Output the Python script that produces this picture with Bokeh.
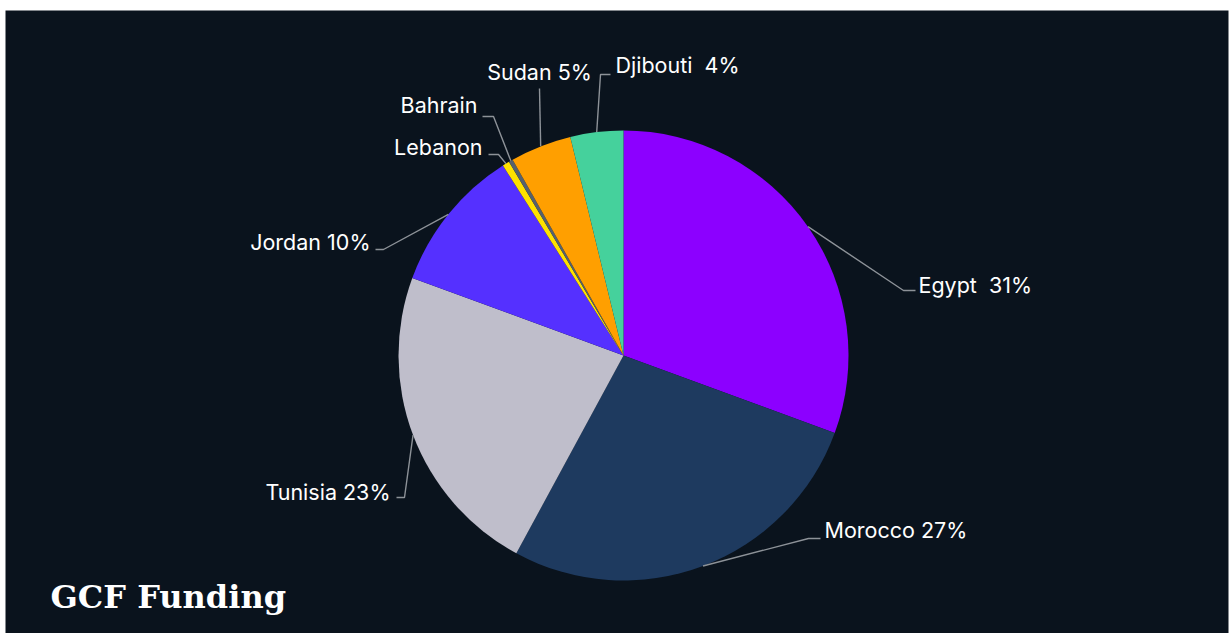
import math
from bokeh.plotting import figure
from bokeh.models import Range1d, ColumnDataSource
from bokeh.core.properties import value
from bokeh.embed import file_html
from bokeh.resources import INLINE

# ---- data ----
countries = ["Egypt", "Morocco", "Tunisia", "Jordan", "Lebanon", "Bahrain", "Sudan", "Djibouti"]
shares = [30.6, 27.3, 22.7, 10.4, 0.5, 0.3, 4.4, 3.8]
labels = ["Egypt\u00a0 31%", "Morocco 27%", "Tunisia 23%", "Jordan 10%", "Lebanon", "Bahrain", "Sudan 5%", "Djibouti\u00a0 4%"]
colors = ["#8c00ff", "#1e3a5f", "#bfbecb", "#5530ff", "#ffe100", "#56616d", "#ff9f00", "#45d19c"]

# ---- layout (pixel positions, y measured from top) ----
W, H = 1230, 633
CX, CY, R = 623, 355, 225
elbows = {
    "Egypt": [(903, 290), (915, 290)],
    "Morocco": [(808, 538), (820, 538)],
    "Tunisia": [(404, 497), (396, 497)],
    "Jordan": [(383, 249), (375, 249)],
    "Lebanon": [(498, 154), (488, 154)],
    "Bahrain": [(493, 116), (482, 116)],
    "Sudan": [(539, 88)],
    "Djibouti": [(600, 74), (610, 74)],
}
label_pos = {
    "Egypt": (918, 284, "left"),
    "Morocco": (824, 529, "left"),
    "Tunisia": (390, 491, "right"),
    "Jordan": (370, 241, "right"),
    "Lebanon": (482, 146, "right"),
    "Bahrain": (477, 104, "right"),
    "Sudan": (539, 71, "center"),
    "Djibouti": (615, 64, "left"),
}

def fy(ypx):
    return H - ypx

p = figure(width=W, height=H, x_range=Range1d(0, W), y_range=Range1d(0, H),
           output_backend="svg", toolbar_location=None, min_border=0)
p.axis.visible = False
p.grid.visible = False
p.outline_line_color = None
p.background_fill_color = "white"
p.border_fill_color = "white"

# dark panel
p.quad(left=[5], right=[1228], bottom=[0], top=[fy(10)], fill_color="#0a131d", line_color=None)

total = sum(shares)
starts, ends, mids = [], [], []
cum = 0.0
for s in shares:
    a0 = cum / total
    cum += s
    a1 = cum / total
    starts.append(math.pi / 2 - 2 * math.pi * a0)
    ends.append(math.pi / 2 - 2 * math.pi * a1)
    mids.append(2 * math.pi * (a0 + a1) / 2)

src = ColumnDataSource(dict(start=starts, end=ends, color=colors, name=countries))
p.wedge(x=CX, y=fy(CY), radius=R, start_angle="start", end_angle="end",
        direction="clock", fill_color="color", line_color=None, source=src)

# leader lines
xs, ys = [], []
for c, m in zip(countries, mids):
    x0 = CX + R * math.sin(m)
    y0 = CY - R * math.cos(m)
    pts = [(x0, y0)] + elbows[c]
    xs.append([pt[0] for pt in pts])
    ys.append([fy(pt[1]) for pt in pts])
p.multi_line(xs=xs, ys=ys, line_color="#8d9298", line_width=1.4)

# labels
for c, lab in zip(countries, labels):
    lx, ly, al = label_pos[c]
    p.text(x=[lx], y=[fy(ly)], text=[lab], text_align=al, text_baseline="middle",
           text_color="white", text_font=value("Inter"), text_font_size="21.5px")

# title
p.text(x=[50], y=[fy(596)], text=["GCF Funding"], text_align="left", text_baseline="alphabetic",
       text_color="white", text_font=value("DejaVu Serif"), text_font_style="bold",
       text_font_size="32px")

open("out.html", "w").write(file_html(p, INLINE))
